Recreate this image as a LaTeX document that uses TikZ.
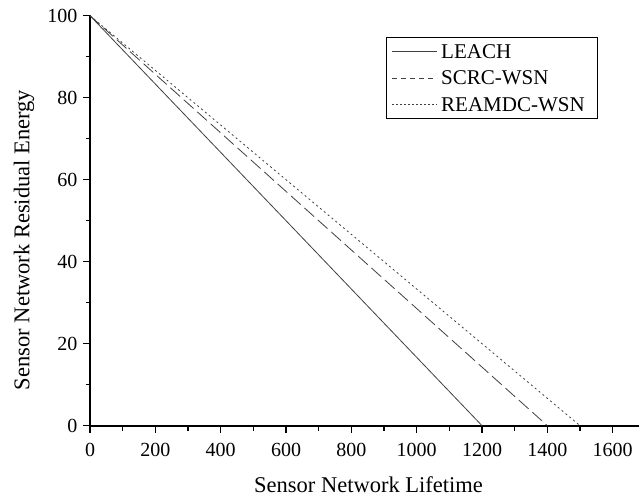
\documentclass[tikz,border=0pt]{standalone}
\usepackage{fontspec}
\setmainfont{Liberation Serif}
\begin{document}
\begin{tikzpicture}[x=1pt,y=-1pt,
  axisline/.style={line width=1.8pt,line cap=rect},
  tickmark/.style={line width=1.3pt},
  ticklbl/.style={font=\fontsize{20}{22}\selectfont,inner sep=0pt},
  titlelbl/.style={font=\fontsize{22.5}{24}\selectfont,inner sep=0pt},
  leglbl/.style={font=\fontsize{21}{23}\selectfont,inner sep=0pt,anchor=base west},
  curve/.style={line width=0.8pt,draw=black!75},
  leachline/.style={curve},
  scrcline/.style={curve,dash pattern=on 13pt off 5pt},
  reamline/.style={curve,dash pattern=on 2pt off 3pt},
  legscrc/.style={curve,dash pattern=on 5pt off 4pt},
  legream/.style={curve,dash pattern=on 1.5pt off 2.5pt}]
\useasboundingbox (0,0) rectangle (639,499);
% axes
\coordinate (O) at (90,425.7);
\coordinate (Ytop) at (90,15.7);
\coordinate (Xend) at (639,425.7);
\draw[axisline] (Ytop) -- (O) -- (Xend);
% x ticks
\foreach \v in {0,200,...,1600}{
  \draw[tickmark] ({90+0.3267*\v},425.7) -- ++(0,7);
  \node[ticklbl,anchor=base,name=xl\v] at ({90+0.3267*\v},456.5) {\v};
}
\foreach \v in {100,300,...,1500}{
  \draw[tickmark] ({90+0.3267*\v},425.7) -- ++(0,5);
}
% y ticks
\foreach \v in {0,20,...,100}{
  \draw[tickmark] (90,{425.7-4.1*\v}) -- ++(-7,0);
  \node[ticklbl,anchor=base east,name=yl\v] at (77.5,{425.7-4.1*\v+6.5}) {\v};
}
\foreach \v in {10,30,...,90}{
  \draw[tickmark] (90,{425.7-4.1*\v}) -- ++(-4,0);
}
% titles
\node[titlelbl,anchor=base,name=xtitle] at (368.5,492.5) {Sensor Network Lifetime};
\node[titlelbl,rotate=90,name=ytitle] at (24,240) {Sensor Network Residual Energy};
% curves
\coordinate (start) at (Ytop);
\coordinate (leachend) at ({90+0.3267*1200},425.7);
\coordinate (scrcend) at ({90+0.3267*1400},425.7);
\coordinate (reamend) at ({90+0.3267*1500},425.7);
\draw[leachline] (start) -- (leachend);
\draw[scrcline] (start) -- (scrcend);
\draw[reamline] (start) -- (reamend);
% legend
\draw[line width=0.8pt] (386,37.5) rectangle (597,118);
\coordinate (la1) at (392,51); \coordinate (la2) at (437,51);
\coordinate (lb1) at (392,78); \coordinate (lb2) at (437,78);
\coordinate (lc1) at (392,104); \coordinate (lc2) at (437,104);
\draw[leachline] (la1) -- (la2);
\draw[legscrc] (lb1) -- (lb2);
\draw[legream] (lc1) -- (lc2);
\node[leglbl,name=leg1] at (441,58) {LEACH};
\node[leglbl,name=leg2] at (441,84.5) {SCRC-WSN};
\node[leglbl,name=leg3] at (441,111) {REAMDC-WSN};
\end{tikzpicture}
\end{document}
